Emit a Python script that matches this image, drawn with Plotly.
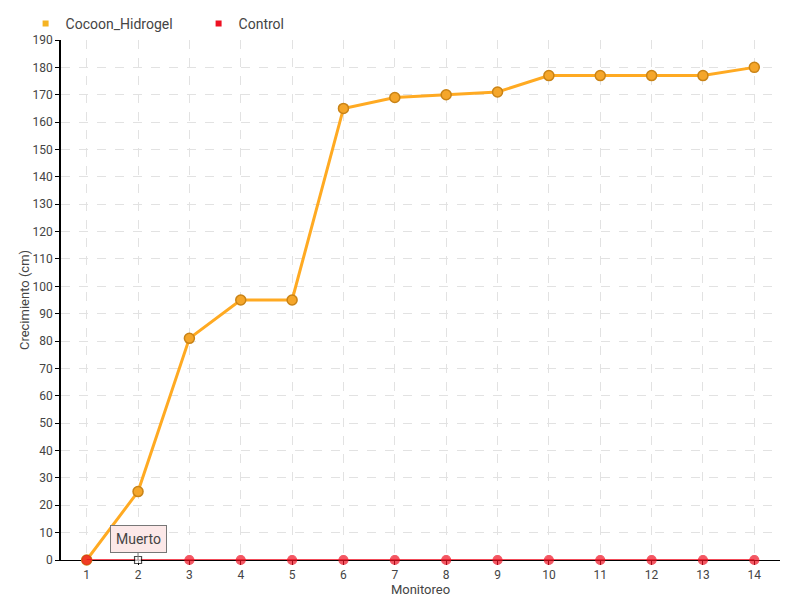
import plotly.graph_objects as go

monitoreo = list(range(1, 15))
cocoon_hidrogel = [0, 25, 81, 95, 95, 165, 169, 170, 171, 177, 177, 177, 177, 180]
control = [0] * 14
y_ticks = list(range(0, 191, 10))

FONT = "Roboto, sans-serif"
ORANGE = "#FFAA22"
RED = "#EE1122"

fig = go.Figure()

fig.add_trace(go.Scatter(
    x=monitoreo, y=cocoon_hidrogel, name="Cocoon_Hidrogel",
    mode="lines+markers", showlegend=False, cliponaxis=False,
    line=dict(color=ORANGE, width=3),
    marker=dict(size=10, color="#F5A62A", line=dict(color="#C98316", width=1.5)),
))

control_symbols = ["circle"] * 14
control_symbols[1] = "square"
control_colors = [RED] * 14
control_colors[1] = "white"
control_lines = [RED] * 14
control_lines[1] = "black"
control_sizes = [9] * 14
control_sizes[1] = 7

fig.add_trace(go.Scatter(
    x=monitoreo, y=control, name="Control",
    mode="lines+markers", showlegend=False, cliponaxis=False,
    line=dict(color=RED, width=1.5),
    marker=dict(size=control_sizes, symbol=control_symbols, color=control_colors,
                line=dict(color=control_lines, width=1.2)),
))

# legend entries as small squares
for name, col in [("Cocoon_Hidrogel", "#F5B322"), ("Control", RED)]:
    fig.add_trace(go.Scatter(
        x=[None], y=[None], name=name, mode="markers",
        marker=dict(symbol="square", size=6, color=col),
    ))

fig.add_annotation(
    x=2, y=0, text="Muerto", showarrow=True, arrowhead=0, arrowwidth=1,
    arrowcolor="#777777", ax=0, ay=-21,
    bgcolor="#FCE8E8", bordercolor="#777777", borderwidth=1, borderpad=5,
    font=dict(family=FONT, size=14, color="#444444"),
)

# page has an 8px body margin, so the figure box sits 8px right/down
fig.update_layout(
    width=800, height=600,
    margin=dict(l=53, r=28, t=32, b=48, autoexpand=False),
    plot_bgcolor="white", paper_bgcolor="white",
    font=dict(family=FONT, size=12, color="#444444"),
    showlegend=True,
    legend=dict(orientation="h", x=0.022, y=1.0, xref="container", yref="container",
                xanchor="left", yanchor="top", font=dict(size=14),
                itemwidth=30, entrywidth=128, tracegroupgap=0, bgcolor="rgba(0,0,0,0)"),
    xaxis=dict(
        range=[0.5, 14.5], tickmode="array", tickvals=monitoreo,
        showline=True, linecolor="black", linewidth=1, layer="below traces",
        ticks="outside", ticklen=4, tickcolor="black",
        showgrid=True, gridcolor="#E2E2E2", griddash="dash", gridwidth=1,
        zeroline=False, automargin=False,
        title=dict(text="Monitoreo", standoff=0, font=dict(size=13)),
    ),
    yaxis=dict(
        range=[0, 190], tickmode="array", tickvals=y_ticks,
        showline=True, linecolor="black", linewidth=1.5, layer="below traces",
        ticks="outside", ticklen=4, tickcolor="black",
        showgrid=True, gridcolor="#E2E2E2", griddash="dash", gridwidth=1,
        zeroline=False, automargin=False,
        title=dict(text="Crecimiento (cm)", standoff=0, font=dict(size=13)),
    ),
)

fig.write_html("out.html")
